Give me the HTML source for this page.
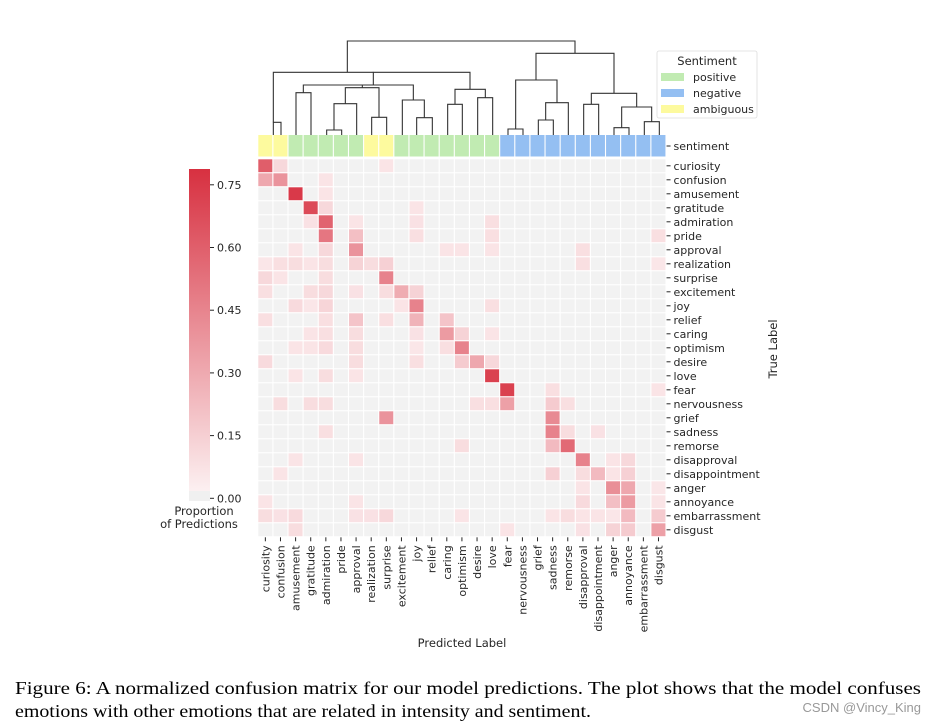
<!DOCTYPE html>
<html><head><meta charset="utf-8">
<style>
html,body{margin:0;padding:0;background:#fff;}
svg{display:block;font-family:"DejaVu Sans","Liberation Sans",sans-serif;}
</style></head>
<body>
<svg id="chart" width="936" height="725" viewBox="0 0 936 725" xmlns="http://www.w3.org/2000/svg">
<g id="dendro" stroke="#333" stroke-width="1.1" fill="none"></g>
<g id="sent"></g>
<g id="cells"></g>
<g id="ylabels" font-size="11" fill="#262626"></g>
<g id="xlabels" font-size="11" fill="#262626"></g>
<text x="462" y="647" font-size="11.5" text-anchor="middle" fill="#262626">Predicted Label</text>
<text transform="translate(777,349) rotate(-90)" font-size="11.5" text-anchor="middle" fill="#262626">True Label</text>
<defs><linearGradient id="cbg" x1="0" y1="1" x2="0" y2="0">
<stop offset="0" stop-color="#fcf0f1"/><stop offset="1" stop-color="#d73040"/></linearGradient></defs>
<g id="colorbar"></g>
<text x="204" y="515" font-size="11.5" text-anchor="middle" fill="#262626">Proportion</text>
<text x="199" y="528" font-size="11.5" text-anchor="middle" fill="#262626">of Predictions</text>
<g>
<rect x="657" y="51" width="100" height="67" rx="2" fill="#fff" stroke="#ddd" stroke-width="0.8"/>
<text x="707" y="65" font-size="11.5" text-anchor="middle" fill="#262626">Sentiment</text>
<rect x="661" y="73" width="23" height="8" fill="#c1ebb2"/>
<text x="693" y="81" font-size="11" fill="#262626">positive</text>
<rect x="661" y="89" width="23" height="8" fill="#94bff2"/>
<text x="693" y="97" font-size="11" fill="#262626">negative</text>
<rect x="661" y="105" width="23" height="8" fill="#fdfa9e"/>
<text x="693" y="113" font-size="11" fill="#262626">ambiguous</text>
</g>
<text x="15" y="694" font-family="Liberation Serif, serif" font-size="18" textLength="906" lengthAdjust="spacingAndGlyphs" fill="#000">Figure 6:  A normalized confusion matrix for our model predictions.  The plot shows that the model confuses</text>
<text x="15" y="717" font-family="Liberation Serif, serif" font-size="18" textLength="576" lengthAdjust="spacingAndGlyphs" fill="#000">emotions with other emotions that are related in intensity and sentiment.</text>
<text x="921" y="712" font-family="Liberation Sans, sans-serif" font-size="13" text-anchor="end" fill="#999">CSDN @Vincy_King</text>
</svg>
<script>
const labels=["curiosity","confusion","amusement","gratitude","admiration","pride","approval","realization","surprise","excitement","joy","relief","caring","optimism","desire","love","fear","nervousness","grief","sadness","remorse","disapproval","disappointment","anger","annoyance","embarrassment","disgust"];
const sentiments=["amb","amb","pos","pos","pos","pos","pos","amb","amb","pos","pos","pos","pos","pos","pos","pos","neg","neg","neg","neg","neg","neg","neg","neg","neg","neg","neg"];
// non-zero cells: [row, col, value]
const cellValues=[
[0,0,.6],[0,1,.1],[0,8,.05],
[1,0,.3],[1,1,.38],[1,4,.05],
[2,2,.75],[2,4,.05],
[3,3,.68],[3,4,.1],[3,10,.05],
[4,3,.06],[4,4,.58],[4,6,.05],[4,10,.06],[4,15,.07],
[5,4,.5],[5,6,.2],[5,10,.07],[5,15,.07],[5,26,.07],
[6,2,.05],[6,4,.1],[6,6,.38],[6,12,.05],[6,13,.05],[6,15,.05],[6,21,.07],
[7,0,.04],[7,1,.07],[7,2,.08],[7,3,.05],[7,4,.08],[7,6,.12],[7,7,.08],[7,8,.13],[7,21,.07],[7,26,.04],
[8,0,.1],[8,1,.05],[8,4,.08],[8,8,.45],
[9,0,.07],[9,3,.08],[9,4,.1],[9,6,.06],[9,8,.08],[9,9,.28],[9,10,.12],
[10,2,.09],[10,3,.04],[10,4,.11],[10,9,.05],[10,10,.45],[10,15,.07],
[11,0,.07],[11,4,.07],[11,6,.18],[11,8,.07],[11,10,.25],[11,12,.18],
[12,3,.05],[12,4,.07],[12,6,.08],[12,10,.06],[12,12,.35],[12,13,.12],[12,15,.05],
[13,2,.05],[13,3,.05],[13,4,.09],[13,6,.08],[13,10,.04],[13,12,.07],[13,13,.45],
[14,0,.09],[14,6,.08],[14,10,.07],[14,13,.15],[14,14,.3],[14,15,.1],
[15,2,.05],[15,4,.08],[15,6,.05],[15,15,.72],
[16,16,.72],[16,19,.07],[16,26,.05],
[17,1,.08],[17,3,.08],[17,4,.08],[17,14,.07],[17,15,.07],[17,16,.33],[17,19,.15],[17,20,.07],
[18,8,.38],[18,19,.42],
[19,4,.07],[19,19,.45],[19,20,.08],[19,22,.06],
[20,13,.08],[20,19,.22],[20,20,.55],
[21,2,.05],[21,6,.05],[21,21,.45],[21,23,.05],[21,24,.1],
[22,1,.05],[22,19,.13],[22,21,.08],[22,22,.22],[22,23,.05],[22,24,.13],
[23,21,.05],[23,23,.4],[23,24,.3],[23,26,.04],
[24,0,.05],[24,6,.05],[24,21,.09],[24,23,.2],[24,24,.35],[24,26,.05],
[25,0,.08],[25,1,.06],[25,2,.09],[25,6,.06],[25,7,.06],[25,8,.1],[25,13,.05],[25,19,.05],[25,20,.08],[25,21,.05],[25,22,.05],[25,23,.04],[25,24,.22],[25,26,.15],
[26,2,.08],[26,16,.05],[26,21,.06],[26,23,.12],[26,24,.15],[26,26,.33]
];
const cbTicks=[0,0.15,0.3,0.45,0.6,0.75];
const cbTickLabels=["0.00","0.15","0.30","0.45","0.60","0.75"];

const NS="http://www.w3.org/2000/svg";
const X0=258.3,PX=15.12,Y0=159.3,PY=14.0,VMAX=0.788;
const xPos=c=>X0+c*PX, yPos=r=>Y0+r*PY;
function mk(tag,attrs,parent){const e=document.createElementNS(NS,tag);for(const k in attrs)e.setAttribute(k,attrs[k]);parent.appendChild(e);return e;}
function color(v){
  if(v<=0.01) return "#f2f2f2";
  const t=Math.min(v/VMAX,1);
  const a=[252,240,241],b=[215,48,64];
  return "rgb("+a.map((x,i)=>Math.round(x+(b[i]-x)*t)).join(",")+")";
}
const n=labels.length;
const cells=document.getElementById('cells');
const grid=[];for(let r=0;r<n;r++){grid.push(new Array(n).fill(0));}
cellValues.forEach(d=>{grid[d[0]][d[1]]=d[2];});
for(let r=0;r<n;r++)for(let c=0;c<n;c++){
  const e=mk('rect',{x:xPos(c).toFixed(2),y:yPos(r).toFixed(2),width:(PX-1.1).toFixed(2),height:(PY-1.1).toFixed(2),fill:color(grid[r][c])},cells);
  
  
}
const sc={pos:"#c1ebb2",neg:"#94bff2",amb:"#fdfa9e"};
const sent=document.getElementById('sent');
sentiments.forEach((s,c)=>{
  const e=mk('rect',{x:xPos(c).toFixed(2),y:135,width:(PX-1.1).toFixed(2),height:21.5,fill:sc[s]},sent);
  
  
});
const yl=document.getElementById('ylabels');
const xEnd=xPos(n);
const rowsL=["sentiment"].concat(labels);
rowsL.forEach((l,i)=>{
  const y=i===0?146:yPos(i-1)+PY/2-0.5;
  mk('line',{x1:xEnd,x2:xEnd+4,y1:y,y2:y,stroke:"#262626","stroke-width":1},yl);
  const t=mk('text',{x:xEnd+7,y:y+4},yl);t.textContent=l;
  
  
});
const xl=document.getElementById('xlabels');
const yEnd=yPos(n);
labels.forEach((l,c)=>{
  const x=xPos(c)+PX/2-0.5;
  mk('line',{x1:x,x2:x,y1:yEnd,y2:yEnd+4,stroke:"#262626","stroke-width":1},xl);
  const t=mk('text',{transform:"translate("+(x+4)+","+(yEnd+8)+") rotate(-90)","text-anchor":"end"},xl);t.textContent=l;
  
  
});
// colorbar
const cb=document.getElementById('colorbar');
const cbTop=169,cbBot=501,cb0=498.3;
const cbY=v=>cb0-(v/0.15)*62.7;
mk('rect',{x:189,y:cbTop,width:21,height:(491-cbTop),fill:"url(#cbg)"},cb);
mk('rect',{x:189,y:491,width:21,height:cbBot-491,fill:"#f0f0f0"},cb);
cbTicks.forEach((v,i)=>{
  const y=cbY(v);
  mk('line',{x1:210,x2:214,y1:y,y2:y,stroke:"#262626"},cb);
  const t=mk('text',{x:217,y:y+4,"font-size":11,fill:"#262626"},cb);t.textContent=cbTickLabels[i];
  
  
});
// dendrogram links: [xLeft, yLeftBottom, xRight, yRightBottom, yTop]
const zx=v=>250+v/3, zy=v=>35+v/3;
const links=[
[70,300,93,300,262],[138,300,183,300,173],[230,300,275,300,285],[252,285,320,300,206],
[365,300,410,300,247],[286,206,387,247,158],[160,173,337,158,150],[500,300,547,300,248],
[457,300,523,248,195],[248,150,490,195,150],[593,300,637,300,208],[683,300,728,300,188],
[615,208,706,188,163],[370,150,660,163,112],[70,262,370,112,112],
[774,300,819,300,282],[865,300,910,300,255],[887,255,955,300,203],[797,282,921,203,135],
[1001,300,1046,300,208],[1092,300,1137,300,278],[1183,300,1228,300,260],[1115,278,1205,260,216],
[1024,208,1160,216,175],[858,135,1092,175,55],[292,112,975,55,18]
];
const dg=document.getElementById('dendro');
links.forEach(l=>{
  const [a,b,c,d,t]=l;
  const p=mk('path',{d:"M"+zx(a)+","+zy(b)+"V"+zy(t)+"H"+zx(c)+"V"+zy(d)},dg);
  
  
});
</script>
</body></html>
